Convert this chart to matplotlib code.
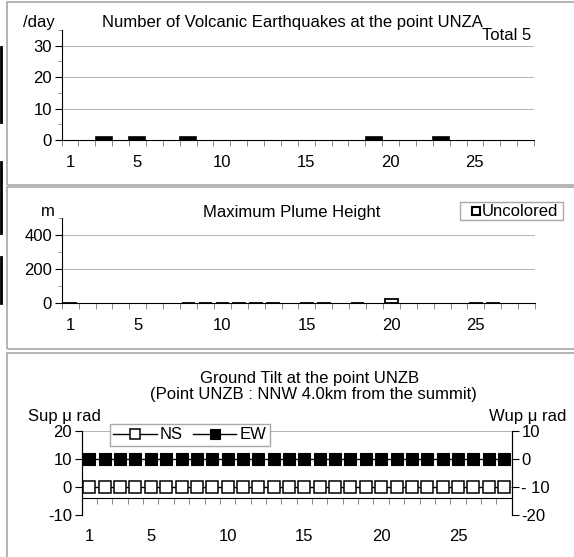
import numpy as np
import matplotlib
matplotlib.use("Agg")
import matplotlib.pyplot as plt
from matplotlib.patches import Rectangle
from matplotlib.lines import Line2D
from matplotlib.ticker import FixedLocator

plt.rcParams['font.family'] = ['Liberation Sans', 'DejaVu Sans']

# DATA
days = np.arange(1, 29)
quake_counts = [0, 0, 1, 0, 1, 0, 0, 1, 0, 0, 0, 0, 0, 0,
                0, 0, 0, 0, 1, 0, 0, 0, 1, 0, 0, 0, 0, 0]
quake_total = "Total 5"

plume_days = [1, 8, 9, 10, 11, 12, 13, 15, 16, 18, 20, 25, 26]
plume_heights = [0, 0, 0, 0, 0, 0, 0, 0, 0, 0, 25, 0, 0]

tilt_ns = [0, 0, 0, 0, 0, 0, 0, 0, 0, 0, 0, 0, 0, 0,
           0, 0, 0, 0, 0, 0, 0, 0, 0, 0, 0, 0, 0, 0]
tilt_ew = [0, 0, 0, 0, 0, 0, 0, 0, 0, 0, 0, 0, 0, 0,
           0, 0, 0, 0, 0, 0, 0, 0, 0, 0, 0, 0, 0, 0]

xtick_labels = [1, 5, 10, 15, 20, 25]

# LAYOUT (pixel helpers)
W, H = 574, 557
FS = 12
GRID = '#b4b4b4'

fig = plt.figure(figsize=(W / 100, H / 100), dpi=100, facecolor='white')

def box(l, t, r, b):
    return [l / W, 1 - b / H, (r - l) / W, (b - t) / H]

def ftext(x, y, s, **kw):
    fig.text(x / W, 1 - y / H, s, fontsize=FS, **kw)

def frame(t, b):
    fig.add_artist(Rectangle((6.5 / W, 1 - b / H), (620 - 6.5) / W, (b - t) / H,
                             transform=fig.transFigure, fill=False,
                             ec='#a8a8a8', lw=1.2))

def style_x(ax, pad):
    ax.set_xlim(0.5, 28.5)
    ax.set_xticks(xtick_labels)
    ax.set_xticklabels([str(v) for v in xtick_labels], fontsize=FS)
    ax.xaxis.set_minor_locator(FixedLocator(np.arange(0.5, 29, 1)))
    ax.tick_params(axis='x', which='major', length=0, pad=pad)
    ax.tick_params(axis='x', which='minor', length=4, width=0.7,
                   direction='out', color='#888888')

# frames and edge marks
frame(1.5, 185)
frame(187, 349)
frame(353, 580)
for y0, y1 in [(47, 70), (72, 122), (162, 233), (257, 303)]:
    fig.add_artist(Line2D([1.2 / W, 1.2 / W], [1 - y0 / H, 1 - y1 / H],
                          color='black', lw=2, transform=fig.transFigure))

# PANEL 1: earthquakes
ax1 = fig.add_axes(box(61.5, 30, 534, 140))
qc = np.array(quake_counts)
ax1.bar(days[qc > 0], qc[qc > 0], width=0.95, color='black', edgecolor='black', lw=1.2)
ax1.set_ylim(0, 35)
ax1.set_yticks([0, 10, 20, 30])
ax1.yaxis.set_minor_locator(FixedLocator([5, 15, 25, 35]))
ax1.tick_params(axis='y', which='major', length=5, labelsize=FS, pad=2)
ax1.tick_params(axis='y', which='minor', length=3, color='#888888')
for v in [10, 20, 30]:
    ax1.axhline(v, color=GRID, lw=0.7, zorder=0)
style_x(ax1, 11)
for s in ['top', 'right']:
    ax1.spines[s].set_visible(False)
ftext(55, 23, "/day", ha='right', va='center')
ftext(292, 22, "Number of Volcanic Earthquakes at the point UNZA", ha='center', va='center')
ftext(531, 36, quake_total, ha='right', va='center')

# PANEL 2: plume height
ax2 = fig.add_axes(box(61.8, 218.3, 535, 303))
ax2.bar(plume_days, plume_heights, width=0.8, color='white', edgecolor='black', lw=1.3,
        label='Uncolored')
ax2.set_ylim(0, 500)
ax2.set_yticks([0, 200, 400])
ax2.yaxis.set_minor_locator(FixedLocator([100, 300, 500]))
ax2.tick_params(axis='y', which='major', length=5, labelsize=FS, pad=2)
ax2.tick_params(axis='y', which='minor', length=3, color='#888888')
for v in [200, 400]:
    ax2.axhline(v, color=GRID, lw=0.7, zorder=0)
style_x(ax2, 11)
for s in ['top', 'right']:
    ax2.spines[s].set_visible(False)
ftext(48, 212, "m", ha='center', va='center')
ftext(292, 212, "Maximum Plume Height", ha='center', va='center')
fig.add_artist(Rectangle((460 / W, 1 - 220 / H), 103 / W, 18.3 / H,
                         transform=fig.transFigure, fill=True, fc='white',
                         ec='#a8a8a8', lw=1.0))
fig.add_artist(Line2D([476 / W], [1 - 211 / H], marker='s', ms=5.5, mfc='white',
                      mec='black', mew=1.5, transform=fig.transFigure))
ftext(482, 211.5, "Uncolored", ha='left', va='center')

# PANEL 3: ground tilt
ax3 = fig.add_axes(box(81.7, 431, 511.7, 515))
ax3b = ax3.twinx()
ax3.plot(days, tilt_ns, '-s', color='black', lw=1.0, ms=8.2, mfc='white', mec='black',
         mew=1.1, label='NS', zorder=3)
ax3b.plot(days, tilt_ew, '-s', color='black', lw=1.0, ms=8.4, mfc='black', mec='black',
          mew=0.8, label='EW', zorder=3)
ax3.set_ylim(-10, 20)
ax3b.set_ylim(-20, 10)
ax3.set_yticks([-10, 0, 10, 20])
ax3b.set_yticks([-20, -10, 0, 10])
ax3.set_yticklabels(['-10', '0', '10', '20'])
ax3b.set_yticklabels(['-20', '- 10', '0', '10'])
ax3.tick_params(axis='y', length=5, labelsize=FS, pad=2)
ax3b.tick_params(axis='y', length=5, labelsize=FS, pad=2)
for v in [-10, 0, 10, 20]:
    ax3.axhline(v, color=GRID, lw=0.7, zorder=0)
ax3.spines['bottom'].set_position(('data', -4))
style_x(ax3, 22)
for a in (ax3, ax3b):
    a.spines['top'].set_visible(False)
ax3b.spines['bottom'].set_visible(False)
ftext(310, 378, "Ground Tilt at the point UNZB", ha='center', va='center')
ftext(313, 395, "(Point UNZB : NNW 4.0km from the summit)", ha='center', va='center')
ftext(28, 417, "Sup μ rad", ha='left', va='center')
ftext(489, 416, "Wup μ rad", ha='left', va='center')
h1, l1 = ax3.get_legend_handles_labels()
h2, l2 = ax3b.get_legend_handles_labels()
leg = fig.legend(h1 + h2, l1 + l2, ncol=2, loc='upper left',
                 bbox_to_anchor=(110 / W, 1 - 424 / H), fontsize=FS,
                 frameon=True, fancybox=False, edgecolor='#a8a8a8', framealpha=1,
                 handlelength=2.6, handletextpad=0.2, columnspacing=0.6,
                 borderpad=0.2, borderaxespad=0, markerscale=0.8)
leg.get_frame().set_linewidth(1.0)

fig.savefig("out.png", dpi=100, facecolor='white')
